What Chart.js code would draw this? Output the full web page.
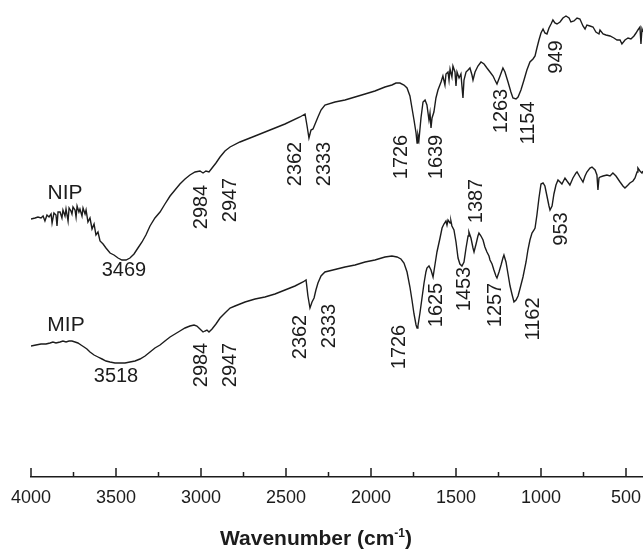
<!DOCTYPE html>
<html>
<head>
<meta charset="utf-8">
<script src="https://cdn.jsdelivr.net/npm/chart.js@4.4.0/dist/chart.umd.min.js"></script>
<style>
  body { margin: 0; background: #fff; }
  #spectra { display: block; background: #fff; }
</style>
</head>
<body>
<canvas id="spectra" width="643" height="551"></canvas>
<script>
// FTIR spectra, wavenumber in cm-1, transmittance in arbitrary units
const nipWavenumber = [4000,3976,3959,3941,3929,3918,3906,3894,3882,3876,3865,3853,3847,3841,3829,3818,3812,3800,3794,3782,
    3776,3765,3759,3753,3741,3735,3729,3718,3712,3700,3694,3682,3676,3665,3653,3641,3629,3618,3606,3594,
    3576,3559,3535,3512,3488,3465,3441,3418,3394,3371,3347,3324,3300,3271,3241,3212,3182,3153,3124,3094,
    3065,3035,3006,2988,2971,2953,2935,2912,2888,2859,2829,2771,2682,2594,2506,2418,2388,2377,2365,2353,
    2341,2329,2312,2294,2271,2212,2153,2094,2035,1977,1918,1877,1853,1830,1806,1788,1771,1759,1747,1735,
    1729,1724,1718,1706,1694,1682,1671,1659,1653,1647,1641,1630,1618,1606,1588,1577,1565,1559,1547,1541,
    1535,1524,1518,1506,1500,1494,1482,1471,1459,1453,1441,1429,1418,1406,1400,1388,1371,1353,1335,1318,
    1300,1282,1271,1259,1241,1224,1212,1194,1177,1165,1147,1135,1118,1100,1083,1065,1047,1035,1024,1012,
    1000,988,977,965,953,941,930,918,906,888,871,853,835,824,806,788,771,753,741,730,
    712,694,677,659,653,635,618,594,571,553,535,524,506,488,471,453,441,430,418,412,
    406,400];
const nipSignal = [258,259,260,259,261,256,262,260,263,254,264,262,251,265,265,259,267,261,268,256,
    269,266,263,270,267,260,271,265,268,261,269,263,267,255,259,248,253,242,245,236,
    233,229,224,222,219,217,217,219,223,229,235,242,251,259,265,273,281,287,293,298,
    302,305,306,304,306,305,309,314,320,326,330,335,341,347,353,360,363,352,339,347,
    348,353,360,367,372,375,377,380,383,386,390,392,394,394,392,389,381,369,357,344,
    334,342,337,359,375,377,372,357,364,349,359,365,379,387,395,401,392,403,405,397,
    408,400,411,405,391,405,399,403,379,397,405,407,409,402,397,405,411,415,413,409,
    405,401,397,393,401,409,405,395,385,379,378,380,387,397,407,415,418,421,429,437,
    444,448,444,443,449,453,457,454,453,455,459,461,459,455,456,459,458,451,448,452,
    451,450,445,443,447,443,442,441,439,437,437,433,437,439,438,441,444,447,450,433,
    448,445];

const mipWavenumber = [4000,3971,3941,3912,3888,3871,3853,3829,3812,3794,3776,3759,3741,3724,3706,3688,3671,3653,3629,3606,
    3582,3559,3535,3506,3477,3447,3418,3388,3359,3329,3300,3271,3241,3212,3182,3153,3124,3094,3065,3041,
    3024,3006,2988,2977,2965,2953,2935,2912,2888,2859,2829,2800,2741,2682,2624,2565,2506,2447,2400,2382,
    2371,2359,2347,2335,2324,2312,2294,2271,2224,2153,2094,2035,1977,1918,1877,1847,1824,1806,1788,1771,
    1759,1747,1735,1729,1724,1712,1700,1688,1677,1671,1659,1647,1635,1624,1612,1594,1582,1571,1559,1553,
    1547,1535,1530,1524,1512,1500,1488,1477,1465,1453,1441,1429,1424,1412,1400,1394,1382,1371,1365,1353,
    1341,1330,1318,1306,1300,1288,1277,1265,1259,1247,1235,1224,1218,1206,1194,1182,1171,1159,1147,1135,
    1124,1106,1088,1077,1065,1053,1041,1035,1024,1012,1000,988,977,965,953,947,935,924,912,900,
    888,877,859,847,830,812,794,788,771,753,741,730,712,700,682,671,665,659,653,635,
    612,594,577,559,535,518,506,488,477,459,447,435,430,418,406,400];
const mipSignal = [131,132,133,133,134,135,134,135,136,135,136,136,135,134,132,130,128,125,122,120,
    118,116,115,114,114,114,115,116,118,121,125,129,132,136,140,143,146,149,151,152,
    151,148,145,146,147,145,148,153,159,164,169,171,175,178,180,183,187,191,195,197,
    181,169,175,179,187,194,201,205,207,210,212,215,217,220,221,220,218,214,205,190,
    177,163,152,149,151,164,179,194,205,209,211,207,200,212,225,239,249,253,256,252,
    257,254,256,251,247,235,219,213,211,215,229,241,245,239,229,225,233,241,244,241,
    237,230,225,221,217,213,207,201,199,205,212,219,222,215,203,191,183,175,177,181,
    188,200,215,227,237,244,247,249,262,279,293,294,291,281,271,267,271,283,292,297,
    295,293,299,296,292,299,304,305,300,295,301,305,309,310,307,302,287,299,300,301,
    302,301,304,301,295,291,289,292,294,296,299,305,309,306,304,306];

// axis ticks (cm-1)
const majorTicks = [4000, 3500, 3000, 2500, 2000, 1500, 1000, 500];
const minorTicks = [3750, 3250, 2750, 2250, 1750, 1250, 750];

// peak labels
const nipPeaks = ['3469', '2984', '2947', '2362', '2333', '1726', '1639', '1263', '1154', '949'];
const mipPeaks = ['3518', '2984', '2947', '2362', '2333', '1726', '1625', '1453', '1387', '1257', '1162', '953'];

// where each label sits: [wavenumber, signal, vertical]
const nipSpots = [[3453,207,false],[3000,270,true],[2829,277,true],[2447,313,true],[2271,313,true],
    [1818,320,true],[1612,320,true],[1230,366,true],[1071,354,true],[906,420,true]];
const mipSpots = [[3500,101,false],[3000,112,true],[2829,112,true],[2412,140,true],[2247,151,true],
    [1830,130,true],[1612,172,true],[1453,188,true],[1377,276,true],[1265,172,true],[1047,158,true],[877,248,true]];
const seriesSpots = [['NIP', 3800, 284], ['MIP', 3794, 152]];

const ink = '#1c1c1c';
const fontFamily = "'Liberation Sans', Arial, sans-serif";

function toPoints(xs, ys) {
    return xs.map((w, i) => ({ x: w, y: ys[i] }));
}

const axisDecor = {
    id: 'axisDecor',
    afterDraw(chart) {
        const { ctx, chartArea } = chart;
        const xScale = chart.scales.x;
        const base = chartArea.bottom;
        ctx.save();
        ctx.strokeStyle = ink;
        ctx.lineWidth = 1.5;
        ctx.beginPath();
        majorTicks.forEach((v) => {
            const px = xScale.getPixelForValue(v);
            ctx.moveTo(px, base);
            ctx.lineTo(px, base - 9);
        });
        minorTicks.forEach((v) => {
            const px = xScale.getPixelForValue(v);
            ctx.moveTo(px, base);
            ctx.lineTo(px, base - 5);
        });
        ctx.stroke();

        // axis title with superscript
        const mainFont = 'bold 21px ' + fontFamily;
        const supFont = 'bold 12px ' + fontFamily;
        ctx.fillStyle = ink;
        ctx.textBaseline = 'alphabetic';
        ctx.textAlign = 'left';
        ctx.font = mainFont;
        const w1 = ctx.measureText('Wavenumber (cm').width;
        const w3 = ctx.measureText(')').width;
        ctx.font = supFont;
        const w2 = ctx.measureText('-1').width;
        let tx = 316 - (w1 + w2 + w3) / 2;
        const baseline = 545;
        ctx.font = mainFont;
        ctx.fillText('Wavenumber (cm', tx, baseline);
        tx += w1;
        ctx.font = supFont;
        ctx.fillText('-1', tx, baseline - 8);
        tx += w2;
        ctx.font = mainFont;
        ctx.fillText(')', tx, baseline);
        ctx.restore();
    }
};

const peakLabels = {
    id: 'peakLabels',
    afterDatasetsDraw(chart) {
        const { ctx } = chart;
        const xScale = chart.scales.x;
        const yScale = chart.scales.y;
        ctx.save();
        ctx.fillStyle = ink;
        ctx.textAlign = 'center';
        ctx.textBaseline = 'middle';
        ctx.font = '20px ' + fontFamily;
        const put = (text, spot) => {
            const px = xScale.getPixelForValue(spot[0]);
            const py = yScale.getPixelForValue(spot[1]);
            ctx.save();
            ctx.translate(px, py);
            if (spot[2]) ctx.rotate(-Math.PI / 2);
            ctx.fillText(text, 0, 0);
            ctx.restore();
        };
        nipPeaks.forEach((t, i) => put(t, nipSpots[i]));
        mipPeaks.forEach((t, i) => put(t, mipSpots[i]));
        ctx.font = '21px ' + fontFamily;
        seriesSpots.forEach((s) => put(s[0], [s[1], s[2], false]));
        ctx.restore();
    }
};

new Chart(document.getElementById('spectra'), {
    type: 'line',
    data: {
        datasets: [
            {
                label: 'NIP',
                data: toPoints(nipWavenumber, nipSignal),
                borderColor: ink,
                borderWidth: 1.4,
                pointRadius: 0,
                tension: 0,
            },
            {
                label: 'MIP',
                data: toPoints(mipWavenumber, mipSignal),
                borderColor: ink,
                borderWidth: 1.4,
                pointRadius: 0,
                tension: 0,
            },
        ],
    },
    options: {
        responsive: false,
        animation: false,
        devicePixelRatio: 1,
        layout: { padding: { left: 31, right: 0, top: 0, bottom: 0 } },
        plugins: {
            legend: { display: false },
            tooltip: { enabled: false },
        },
        scales: {
            x: {
                type: 'linear',
                reverse: true,
                min: 400,
                max: 4000,
                afterBuildTicks: (scale) => {
                    scale.ticks = majorTicks.concat(minorTicks)
                        .sort((a, b) => a - b)
                        .map((v) => ({ value: v }));
                },
                afterFit: (scale) => {
                    scale.height = 74;
                },
                grid: { display: false, drawTicks: false },
                border: { display: true, color: ink, width: 1.5 },
                ticks: {
                    autoSkip: false,
                    maxRotation: 0,
                    padding: 10,
                    color: ink,
                    font: { family: fontFamily, size: 18 },
                    callback: (v) => (majorTicks.includes(v) ? String(v) : ''),
                },
            },
            y: {
                display: false,
                min: 0,
                max: 477,
            },
        },
    },
    plugins: [axisDecor, peakLabels],
});
</script>
</body>
</html>
